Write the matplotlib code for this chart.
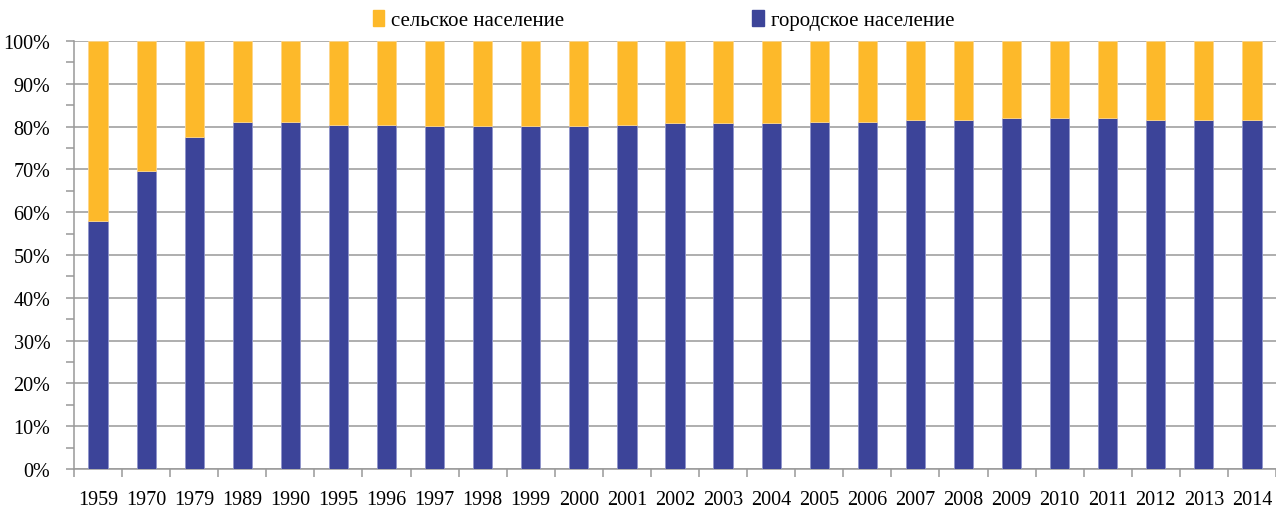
import numpy as np
import matplotlib.pyplot as plt
from matplotlib.patches import Patch
from matplotlib.ticker import MultipleLocator, FuncFormatter

plt.rcParams['font.family'] = ['Liberation Serif', 'DejaVu Serif']

years = ['1959', '1970', '1979', '1989', '1990', '1995', '1996', '1997', '1998',
         '1999', '2000', '2001', '2002', '2003', '2004', '2005', '2006', '2007',
         '2008', '2009', '2010', '2011', '2012', '2013', '2014']
urban = [58.0, 69.7, 77.5, 81.1, 81.1, 80.4, 80.4, 80.1, 80.1,
         80.1, 80.1, 80.4, 80.8, 80.8, 80.8, 81.1, 81.1, 81.5,
         81.5, 81.9, 81.9, 81.9, 81.5, 81.5, 81.5]
rural = [100 - u for u in urban]

blue = '#3C4499'
orange = '#FDB92A'
grey = '#999999'

fig = plt.figure(figsize=(12.76, 5.10), dpi=100)
ax = fig.add_axes([74 / 1276, 1 - 470 / 510, 1 - 74 / 1276, (470 - 42) / 510])

x = np.arange(len(years))
ax.bar(x, urban, width=0.4, color=blue, edgecolor='#8f95cc', linewidth=0.6, zorder=3)
ax.bar(x, rural, width=0.4, bottom=urban, color=orange, edgecolor='#fdd68a',
       linewidth=0.6, zorder=3)

ax.set_xlim(-0.5, len(years) - 0.5)
ax.set_ylim(0, 100)

ax.yaxis.set_major_locator(MultipleLocator(10))
ax.yaxis.set_minor_locator(MultipleLocator(5))
ax.yaxis.set_major_formatter(FuncFormatter(lambda v, p: f'{v:.0f}%'))
ax.grid(axis='y', which='major', color=grey, linewidth=1.1, zorder=0)

ax.set_xticks(x)
ax.set_xticklabels(years)
ax.set_xticks(np.arange(len(years) + 1) - 0.5, minor=True)
ax.tick_params(axis='x', which='major', length=0, pad=15, labelsize=14.5)
ax.tick_params(axis='x', which='minor', length=6, width=1.1, color=grey)
ax.tick_params(axis='y', which='both', length=6, width=1.1, color=grey,
               labelsize=14.5, pad=11)

for s in ['top', 'right']:
    ax.spines[s].set_visible(False)
for s in ['left', 'bottom']:
    ax.spines[s].set_color(grey)
    ax.spines[s].set_linewidth(1.1)

handles = [Patch(color=orange, label='сельское население'),
           Patch(color=blue, label='городское население')]
fig.legend(handles=handles, loc='center', bbox_to_anchor=(0.52, 0.958), ncol=2,
           frameon=False, fontsize=15, handlelength=0.55, handleheight=0.75,
           handletextpad=0.35, columnspacing=9.0)

fig.savefig('out.png', dpi=100)
